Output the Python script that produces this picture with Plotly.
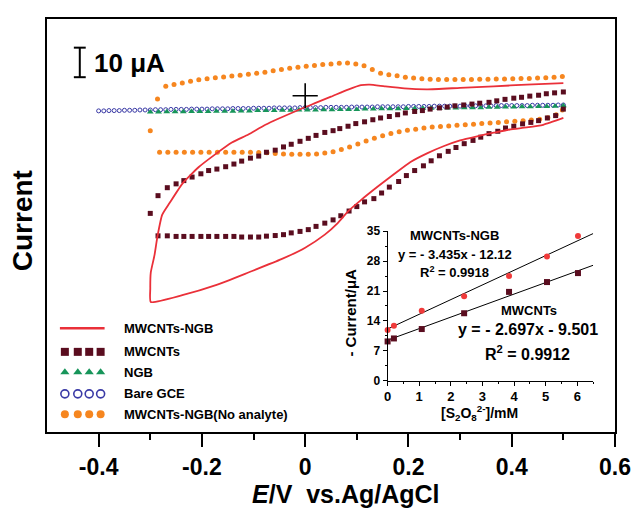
import plotly.graph_objects as go

# ---------------- data ----------------
# potential in V, current in uA (arbitrary zero at the Bare GCE baseline)
red_E = [0.500, 0.429, 0.365, 0.300, 0.237, 0.192, 0.154, 0.125, 0.108, 0.083, 0.050, 0.019, -0.013,
         -0.077, -0.110, -0.142, -0.175, -0.206, -0.238, -0.263, -0.277, -0.286, -0.292, -0.299, -0.300,
         -0.299, -0.238, -0.173, -0.110, -0.046, 0.000, 0.038, 0.063, 0.083, 0.108, 0.140, 0.173, 0.204,
         0.237, 0.269, 0.300, 0.333, 0.365, 0.396, 0.429, 0.461, 0.500]
red_I = [9.4, 8.9, 8.3, 7.8, 7.3, 7.6, 8.3, 8.9, 8.7, 7.2, 4.8, 2.6, 0.3,
         -4.7, -8.0, -10.7, -14.8, -19.0, -24.7, -31.3, -35.2, -42.4, -49.0, -54.7, -60.2,
         -64.7, -62.4, -59.0, -54.7, -50.2, -46.3, -41.9, -38.0, -34.0, -30.2, -25.7, -21.3, -17.3,
         -14.3, -11.9, -10.0, -8.6, -7.4, -6.3, -5.6, -4.7, -2.4]

mw_E = [-0.300, -0.285, -0.267, -0.250, -0.235, -0.219, -0.202, -0.187, -0.171, -0.154, -0.138, -0.123,
        -0.106, -0.090, -0.075, -0.058, -0.042, -0.027, -0.010, 0.006, 0.021, 0.038, 0.054, 0.067, 0.083,
        0.098, 0.115, 0.131, 0.146, 0.163, 0.179, 0.194, 0.212, 0.227, 0.242, 0.260, 0.275, 0.290, 0.307,
        0.323, 0.338, 0.356, 0.371, 0.387, 0.404, 0.419, 0.435, 0.452, 0.467, 0.483, 0.500,
        0.500, 0.485, 0.469, 0.452, 0.437, 0.421, 0.404, 0.388, 0.373, 0.356, 0.340, 0.325, 0.308, 0.292,
        0.277, 0.260, 0.244, 0.229, 0.212, 0.196, 0.181, 0.163, 0.148, 0.133, 0.115, 0.100, 0.085, 0.069,
        0.054, 0.038, 0.021, 0.006, -0.010, -0.027, -0.042, -0.058, -0.075, -0.090, -0.106, -0.123,
        -0.138, -0.154, -0.171, -0.187, -0.202, -0.219, -0.235, -0.250, -0.267, -0.285]
mw_I = [-34.7, -28.7, -26.0, -24.7, -23.6, -22.4, -21.3, -20.2, -19.7, -18.9, -18.0, -17.0,
        -16.0, -15.3, -14.0, -13.3, -12.2, -11.3, -10.3, -9.3, -8.3, -7.3, -6.7, -6.0, -5.2,
        -4.3, -3.7, -3.0, -2.4, -1.9, -1.3, -0.7, -0.2, 0.1, 0.6, 1.0, 1.3, 1.7, 2.0,
        2.3, 2.6, 2.9, 3.4, 3.9, 4.3, 4.6, 5.0, 5.3, 5.8, 6.1, 6.4,
        0.6, -1.6, -2.4, -3.3, -3.9, -4.4, -5.2, -5.8, -6.9, -7.7, -8.9, -10.0, -11.1, -12.4,
        -13.7, -15.2, -16.9, -18.6, -20.2, -21.9, -23.9, -25.8, -27.8, -29.7, -30.8, -32.4, -33.9, -35.5,
        -36.9, -38.0, -39.1, -40.2, -40.8, -41.3, -41.9, -42.2, -42.4, -42.7, -42.7, -42.7,
        -42.5, -42.5, -42.5, -42.5, -42.5, -42.5, -42.5, -42.5, -42.3, -42.3]

ngb_E = [-0.300, -0.284, -0.268, -0.252, -0.236, -0.220, -0.204, -0.188, -0.172, -0.156, -0.140, -0.124,
         -0.108, -0.092, -0.076, -0.060, -0.044, -0.028, -0.012, 0.004, 0.020, 0.036, 0.052, 0.068, 0.084,
         0.100, 0.116, 0.132, 0.148, 0.164, 0.180, 0.196, 0.212, 0.228, 0.244, 0.260, 0.276, 0.292, 0.308,
         0.324, 0.340, 0.356, 0.372, 0.388, 0.404, 0.420, 0.436, 0.452, 0.468, 0.484, 0.500]
ngb_I = [-0.4, -0.4, -0.3, -0.3, -0.3, -0.2, -0.2, -0.2, -0.1, -0.1, -0.1, 0.0,
         0.0, 0.1, 0.1, 0.1, 0.2, 0.2, 0.3, 0.3, 0.3, 0.4, 0.4, 0.5, 0.5,
         0.5, 0.6, 0.6, 0.7, 0.7, 0.7, 0.8, 0.8, 0.9, 0.9, 0.9, 1.0, 1.0, 1.1,
         1.1, 1.1, 1.2, 1.2, 1.3, 1.3, 1.4, 1.4, 1.5, 1.5, 1.6, 1.7]

bare_E = [-0.40, -0.39, -0.38, -0.37, -0.36, -0.35, -0.34, -0.33, -0.32, -0.31,
          -0.30, -0.29, -0.28, -0.27, -0.26, -0.25, -0.24, -0.23, -0.22, -0.21,
          -0.20, -0.19, -0.18, -0.17, -0.16, -0.15, -0.14, -0.13, -0.12, -0.11,
          -0.10, -0.09, -0.08, -0.07, -0.06, -0.05, -0.04, -0.03, -0.02, -0.01,
          0.00, 0.01, 0.02, 0.03, 0.04, 0.05, 0.06, 0.07, 0.08, 0.09,
          0.10, 0.11, 0.12, 0.13, 0.14, 0.15, 0.16, 0.17, 0.18, 0.19,
          0.20, 0.21, 0.22, 0.23, 0.24, 0.25, 0.26, 0.27, 0.28, 0.29,
          0.30, 0.31, 0.32, 0.33, 0.34, 0.35, 0.36, 0.37, 0.38, 0.39,
          0.40, 0.41, 0.42, 0.43, 0.44, 0.45, 0.46, 0.47, 0.48, 0.49, 0.50]
bare_I = [0.0, 0.0, 0.1, 0.1, 0.1, 0.2, 0.2, 0.2, 0.3, 0.3,
          0.3, 0.4, 0.4, 0.4, 0.5, 0.5, 0.5, 0.5, 0.6, 0.6,
          0.6, 0.6, 0.7, 0.7, 0.7, 0.7, 0.8, 0.8, 0.8, 0.8,
          0.9, 0.9, 0.9, 0.9, 1.0, 1.0, 1.0, 1.0, 1.0, 1.1,
          1.1, 1.1, 1.1, 1.1, 1.2, 1.2, 1.2, 1.2, 1.2, 1.3,
          1.3, 1.3, 1.3, 1.3, 1.4, 1.4, 1.4, 1.4, 1.4, 1.4,
          1.5, 1.5, 1.5, 1.5, 1.5, 1.6, 1.6, 1.6, 1.6, 1.6,
          1.6, 1.7, 1.7, 1.7, 1.7, 1.7, 1.7, 1.8, 1.8, 1.8,
          1.8, 1.8, 1.8, 1.8, 1.9, 1.9, 1.9, 1.9, 1.9, 2.0, 2.0]

noan_E = [-0.300, -0.286,
          -0.270, -0.254, -0.238, -0.222, -0.206, -0.190, -0.174, -0.158, -0.142, -0.126, -0.110, -0.094,
          -0.078, -0.062, -0.046, -0.030, -0.014, 0.002, 0.018, 0.034, 0.050, 0.066, 0.082, 0.098, 0.114,
          0.130, 0.146, 0.162, 0.178, 0.194, 0.210, 0.226, 0.242, 0.258, 0.274, 0.290, 0.306, 0.322, 0.338,
          0.354, 0.370, 0.386, 0.402, 0.418, 0.434, 0.450, 0.466, 0.482, 0.498,
          0.498, 0.486, 0.470, 0.454, 0.438, 0.422, 0.406, 0.390, 0.374, 0.358, 0.342, 0.326, 0.310, 0.294,
          0.278, 0.262, 0.246, 0.230, 0.214, 0.198, 0.182, 0.166, 0.150, 0.134, 0.118, 0.102, 0.086, 0.070,
          0.054, 0.038, 0.022, 0.006, -0.010, -0.026, -0.042, -0.058, -0.074, -0.090, -0.106, -0.122,
          -0.138, -0.154, -0.170, -0.186, -0.202, -0.218, -0.234, -0.250, -0.266, -0.282]
noan_I = [-6.7, 4.0,
          8.3, 8.9, 9.4, 10.0, 10.5, 10.9, 11.2, 11.5, 11.8, 12.1, 12.4, 12.7,
          13.1, 13.6, 14.0, 14.4, 14.8, 15.1, 15.4, 15.7, 15.9, 16.1, 16.2, 15.9, 15.3,
          14.0, 12.7, 12.2, 11.9, 11.4, 11.1, 10.9, 10.7, 10.6, 10.6, 10.6, 10.6, 10.6, 10.7,
          10.7, 10.8, 10.8, 10.9, 11.0, 11.0, 11.1, 11.2, 11.4, 11.6,
          0.3, -1.3, -2.3, -2.8, -3.1, -3.3, -3.5, -3.7, -3.9, -4.1, -4.3, -4.5, -4.7, -4.9,
          -5.1, -5.3, -5.5, -5.8, -6.2, -6.6, -7.1, -7.7, -8.4, -9.3, -10.2, -11.2, -12.2, -13.1,
          -13.8, -14.3, -14.6, -14.7, -14.7, -14.7, -14.6, -14.4, -14.2, -14.1, -14.0, -14.0,
          -14.0, -14.0, -14.0, -14.0, -14.0, -14.0, -14.0, -14.0, -14.0, -14.0]

cross_E = [0.0]
cross_I = [5.1]
scale_bar_uA = 10

# inset: calibration
conc_mM = [0.0, 0.2, 1.08, 2.42, 3.84, 5.04, 6.02]
ngb_resp = [11.9, 12.9, 16.4, 19.8, 24.5, 29.1, 33.9]
mw_resp = [9.2, 9.9, 12.1, 15.8, 20.8, 23.1, 25.2]
fit_x = [0.0, 6.5]
fit_ngb = [12.12, 34.45]
fit_mw = [9.50, 27.03]

x_ticks = [-0.4, -0.2, 0.0, 0.2, 0.4, 0.6]
x_ticklabels = ["-0.4", "-0.2", "0", "0.2", "0.4", "0.6"]

legend_names = ["MWCNTs-NGB", "MWCNTs", "NGB", "Bare GCE", "MWCNTs-NGB(No analyte)"]

# ---------------- styling ----------------
W, H = 643, 508
ML, MR, MT, MB = 47, 24, 13, 76
PW, PH = W - ML - MR, H - MT - MB
FONT = "Liberation Sans, Arial, sans-serif"
RED = "#ea3039"
MAROON = "#5a0d1f"
GREEN = "#17955a"
BLUE = "#3a3aa6"
ORANGE = "#f6861f"


def px(xp):
    return (xp - ML) / PW


def py(yp):
    return (MT + PH - yp) / PH


fig = go.Figure()

fig.add_trace(go.Scatter(x=bare_E, y=bare_I, mode="markers",
                         marker=dict(symbol="circle-open", size=4, color=BLUE, line=dict(width=1, color=BLUE)),
                         showlegend=False))
fig.add_trace(go.Scatter(x=ngb_E, y=ngb_I, mode="markers",
                         marker=dict(symbol="triangle-up", size=6, color=GREEN),
                         showlegend=False))
fig.add_trace(go.Scatter(x=noan_E, y=noan_I, mode="markers",
                         marker=dict(symbol="circle", size=5, color=ORANGE),
                         showlegend=False))
fig.add_trace(go.Scatter(x=mw_E, y=mw_I, mode="markers",
                         marker=dict(symbol="square", size=5, color=MAROON),
                         showlegend=False))
fig.add_trace(go.Scatter(x=red_E, y=red_I, mode="lines",
                         line=dict(color=RED, width=1.8, shape="spline", smoothing=0.5),
                         showlegend=False))
fig.add_trace(go.Scatter(x=cross_E, y=cross_I, mode="markers",
                         marker=dict(symbol="cross-thin", size=18, line=dict(width=1.6, color="black")),
                         showlegend=False))

# inset
fig.add_trace(go.Scatter(x=fit_x, y=fit_ngb, mode="lines", line=dict(color="black", width=1),
                         xaxis="x2", yaxis="y2", showlegend=False, cliponaxis=False))
fig.add_trace(go.Scatter(x=fit_x, y=fit_mw, mode="lines", line=dict(color="black", width=1),
                         xaxis="x2", yaxis="y2", showlegend=False, cliponaxis=False))
fig.add_trace(go.Scatter(x=conc_mM, y=ngb_resp, mode="markers",
                         marker=dict(symbol="circle", size=6, color="#f03a3a"),
                         xaxis="x2", yaxis="y2", showlegend=False, cliponaxis=False))
fig.add_trace(go.Scatter(x=conc_mM, y=mw_resp, mode="markers",
                         marker=dict(symbol="square", size=6, color=MAROON),
                         xaxis="x2", yaxis="y2", showlegend=False, cliponaxis=False))

# hand-drawn legend (overlay axis in paper units)
rows_y = [py(326.7), py(350.7), py(371.5), py(393.3), py(414)]
sample_x = [px(65), px(78), px(89.5), px(101)]
fig.add_trace(go.Scatter(x=[px(60), px(105)], y=[rows_y[0]] * 2, mode="lines",
                         line=dict(color=RED, width=2.5), xaxis="x3", yaxis="y3", showlegend=False))
fig.add_trace(go.Scatter(x=sample_x, y=[rows_y[1]] * 4, mode="markers",
                         marker=dict(symbol="square", size=8, color=MAROON),
                         xaxis="x3", yaxis="y3", showlegend=False))
fig.add_trace(go.Scatter(x=sample_x, y=[rows_y[2]] * 4, mode="markers",
                         marker=dict(symbol="triangle-up", size=8, color=GREEN),
                         xaxis="x3", yaxis="y3", showlegend=False))
fig.add_trace(go.Scatter(x=sample_x, y=[rows_y[3]] * 4, mode="markers",
                         marker=dict(symbol="circle-open", size=8, color=BLUE, line=dict(width=1.6, color=BLUE)),
                         xaxis="x3", yaxis="y3", showlegend=False))
fig.add_trace(go.Scatter(x=sample_x, y=[rows_y[4]] * 4, mode="markers",
                         marker=dict(symbol="circle", size=8, color=ORANGE),
                         xaxis="x3", yaxis="y3", showlegend=False))

annotations = []
for name, yy in zip(legend_names, rows_y):
    annotations.append(dict(x=px(123), y=yy, xref="paper", yref="paper", text=name, showarrow=False,
                            xanchor="left", yanchor="middle",
                            font=dict(family=FONT, size=13, color="black", weight="bold")))


def ann(text, x, y, size, angle=0, xanchor="center"):
    annotations.append(dict(x=px(x), y=py(y), xref="paper", yref="paper", text=text, showarrow=False,
                            xanchor=xanchor, yanchor="middle", textangle=angle,
                            font=dict(family=FONT, size=size, color="black", weight="bold")))


ann("MWCNTs-NGB", 457, 233, 13)
ann("y = - 3.435x - 12.12", 457.5, 252, 13)
ann("R<sup>2</sup> = 0.9918", 457, 270, 13)
ann("MWCNTs", 532, 309, 13)
ann("y = - 2.697x - 9.501", 531, 328, 16)
ann("R<sup>2</sup> = 0.9912", 531, 352, 16)
ann("- Current/μA", 353, 311, 15, angle=-90)
ann("[S<sub>2</sub>O<sub>8</sub><sup>2-</sup>]/mM", 483, 413, 14)
ann("<i>E</i>/V\u00a0\u00a0vs.Ag/AgCl", 348, 494.5, 25)
ann("Current", 22, 218, 28, angle=-90)

# scale bar label
annotations.append(dict(x=-0.4135, y=scale_bar_uA * 1.63, xref="x", yref="y", text="10 μA", showarrow=False,
                        xanchor="left", yanchor="middle",
                        font=dict(family=FONT, size=26, color="black", weight="bold")))

bar_x = -0.4365
bar_top = 21.4
shapes = [
    dict(type="line", xref="x", yref="y", x0=bar_x, x1=bar_x, y0=bar_top - scale_bar_uA, y1=bar_top,
         line=dict(color="black", width=2)),
    dict(type="line", xref="x", yref="y", x0=bar_x - 0.0115, x1=bar_x + 0.0115, y0=bar_top, y1=bar_top,
         line=dict(color="black", width=2)),
    dict(type="line", xref="x", yref="y", x0=bar_x - 0.0115, x1=bar_x + 0.0115,
         y0=bar_top - scale_bar_uA, y1=bar_top - scale_bar_uA, line=dict(color="black", width=2)),
]

fig.update_layout(
    width=W, height=H,
    margin=dict(l=ML, r=MR, t=MT, b=MB, pad=0),
    paper_bgcolor="white", plot_bgcolor="white",
    font=dict(family=FONT, color="black"),
    showlegend=False,
    annotations=annotations,
    shapes=shapes,
    xaxis=dict(range=[-0.5, 0.6], tickvals=x_ticks, ticktext=x_ticklabels,
               ticks="outside", ticklen=13, tickwidth=2, tickcolor="black",
               minor=dict(tickvals=[-0.3, -0.1, 0.1, 0.3, 0.5], ticks="outside", ticklen=6, tickwidth=2,
                          tickcolor="black"),
               showline=True, linewidth=2, linecolor="black", mirror=True,
               showgrid=False, zeroline=False, ticklabelstandoff=0,
               tickfont=dict(family=FONT, size=23, color="black", weight="bold")),
    yaxis=dict(range=[-108.7, 31.1], showticklabels=False, ticks="",
               showline=True, linewidth=2, linecolor="black", mirror=True,
               showgrid=False, zeroline=False),
    xaxis2=dict(domain=[px(390), px(597)], anchor="y2", range=[0, 6.5],
                tickvals=[0, 1, 2, 3, 4, 5, 6], ticks="outside", ticklen=4, tickwidth=1, tickcolor="black",
                minor=dict(tickvals=[0.5, 1.5, 2.5, 3.5, 4.5, 5.5, 6.5], ticks="outside", ticklen=2,
                           tickwidth=1, tickcolor="black"),
                showline=True, linewidth=1, linecolor="black", showgrid=False, zeroline=False,
                tickfont=dict(family=FONT, size=13, color="black", weight="bold")),
    yaxis2=dict(domain=[py(380), py(228.3)], anchor="x2", range=[0, 35],
                tickvals=[0, 7, 14, 21, 28, 35], ticks="outside", ticklen=4, tickwidth=1, tickcolor="black",
                minor=dict(tickvals=[3.5, 10.5, 17.5, 24.5, 31.5], ticks="outside", ticklen=2,
                           tickwidth=1, tickcolor="black"),
                showline=True, linewidth=1, linecolor="black", showgrid=False, zeroline=False,
                tickfont=dict(family=FONT, size=12, color="black", weight="bold")),
    xaxis3=dict(domain=[0, 1], range=[0, 1], anchor="y3", overlaying="x", visible=False, fixedrange=True),
    yaxis3=dict(domain=[0, 1], range=[0, 1], anchor="x3", overlaying="y", visible=False, fixedrange=True),
)

fig.write_html("out.html", config={"displayModeBar": False},
               post_script="document.body.style.margin='0';document.body.style.overflow='hidden';")
